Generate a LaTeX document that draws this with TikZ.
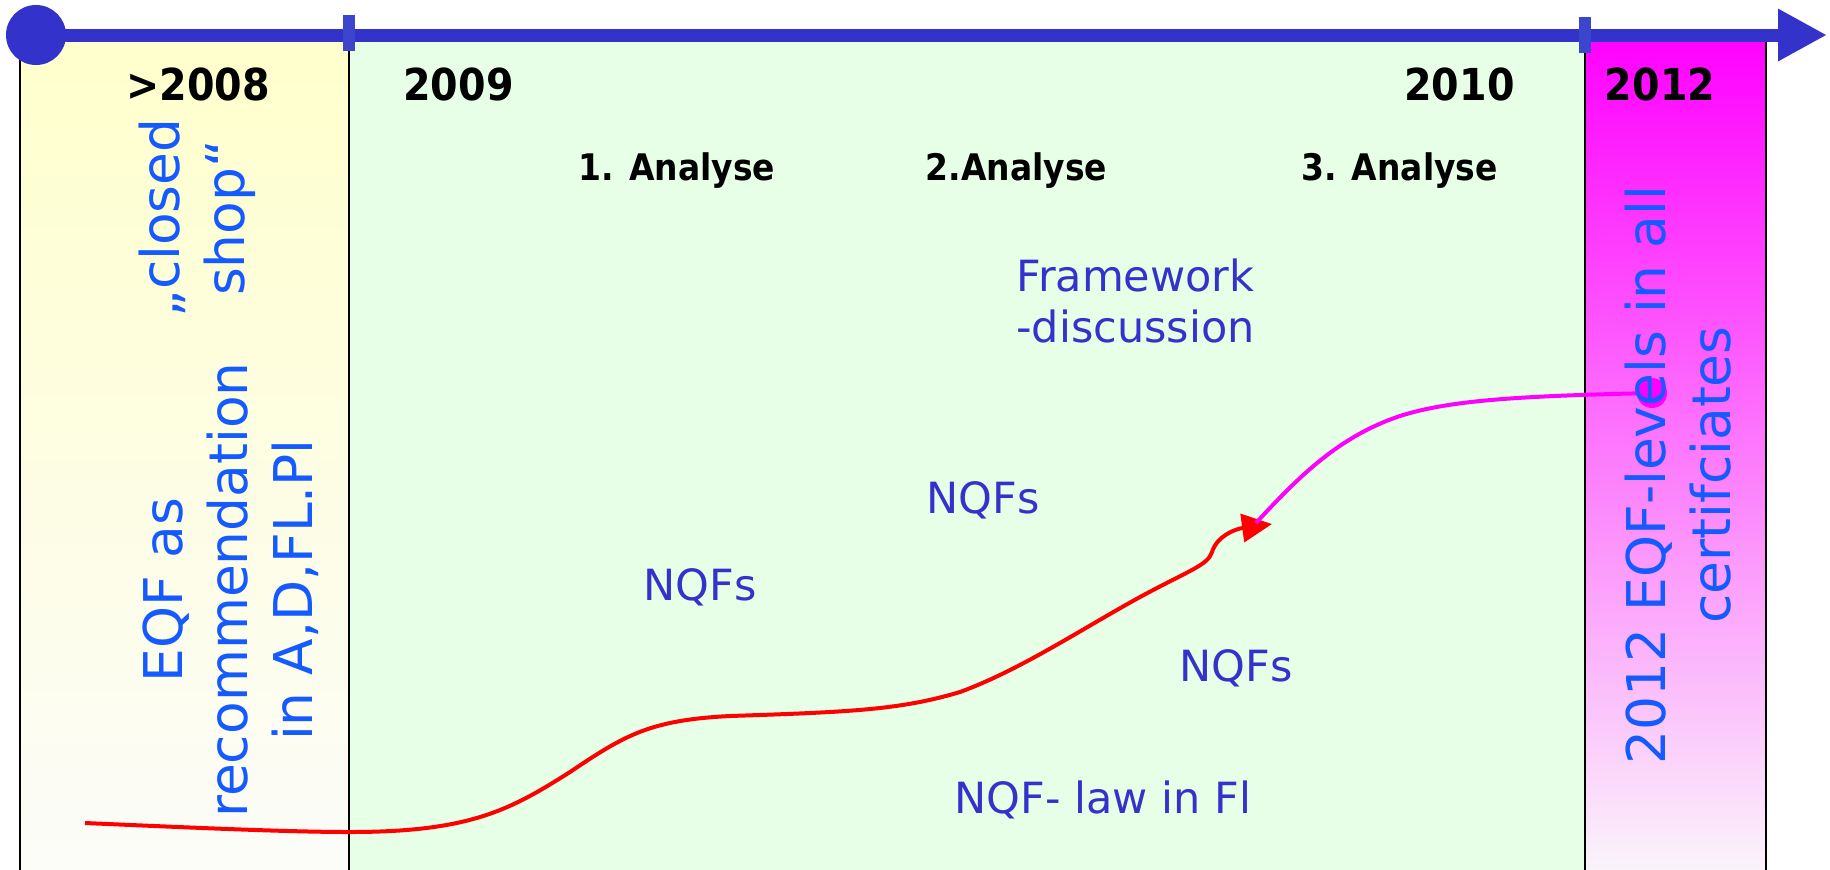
\documentclass[tikz,border=0pt]{standalone}
\usepackage{fontspec}
\setmainfont{DejaVu Sans}
\newfontfamily\cond{DejaVu Sans Condensed}
\usetikzlibrary{arrows.meta}
\definecolor{tlblue}{RGB}{51,51,204}
\definecolor{tickblue}{RGB}{60,70,205}
\definecolor{txtblue}{RGB}{20,90,255}
\definecolor{ytop}{RGB}{255,255,204}
\definecolor{ymid}{RGB}{255,255,226}
\definecolor{ybot}{RGB}{252,252,250}
\definecolor{gfill}{RGB}{230,255,230}
\definecolor{mtop}{RGB}{255,0,255}
\definecolor{mmid}{RGB}{255,175,255}
\definecolor{mbot}{RGB}{250,248,250}
\definecolor{magline}{RGB}{255,0,255}
\definecolor{redline}{RGB}{255,0,0}
\tikzset{
  period/.style={draw=black, line width=1pt},
  yearlabel/.style={font=\cond\bfseries\fontsize{22}{26}\selectfont, anchor=base, inner sep=0pt},
  analyselabel/.style={font=\cond\bfseries\fontsize{18.3}{22}\selectfont, anchor=base, inner sep=0pt},
  note/.style={font=\fontsize{21.5}{25.5}\selectfont, text=tlblue, anchor=base west, inner sep=0pt, align=left},
  verttext/.style={font=\fontsize{26.7}{32.5}\selectfont, text=txtblue, rotate=90, align=center, inner sep=0pt},
  timeline/.style={line width=6.5pt, draw=tlblue, -{Triangle[length=24.5pt,width=24.5pt]}},
  tickmark/.style={fill=tickblue},
  redcurve/.style={line width=2pt, draw=redline, -{Triangle[length=15pt,width=14pt]}},
  magcurve/.style={line width=2pt, draw=magline}
}
\begin{document}
\begin{tikzpicture}[x=0.5pt, y=-0.5pt]
\useasboundingbox (0,0) rectangle (1830,869);
\clip (0,0) rectangle (1830,869);
\fill[white] (0,0) rectangle (1830,869);
% period boxes
\path[period, top color=ytop, middle color=ymid, bottom color=ybot] (20,35) rectangle (349,885);
\path[period, fill=gfill] (349,35) rectangle (1585,885);
\path[period, top color=mtop, middle color=mmid, bottom color=mbot] (1585,35) rectangle (1766,885);
% timeline
\coordinate (tend) at (1827,35);
\node[circle, fill=tlblue, minimum size=30pt, inner sep=0pt] (tstart) at (36,35) {};
\draw[timeline] (tstart.center) -- (tend);
\fill[tickmark] (343,15) rectangle (355,51);
\fill[tickmark] (1579,17) rectangle (1591,53);
% year labels
\node[yearlabel] (y2008) at (198,100) {>2008};
\node[yearlabel] (y2009) at (458.5,100) {2009};
\node[yearlabel] (y2010) at (1459.5,100) {2010};
\node[yearlabel] (y2012) at (1660,100) {2012};
% analyses
\node[analyselabel] (an1) at (677,180) {1. Analyse};
\node[analyselabel] (an2) at (1016.5,180) {2.Analyse};
\node[analyselabel] (an3) at (1399.5,180) {3. Analyse};
% notes
\node[note, anchor=north west] (frame) at (1016,258) {Framework\\-discussion};
\node[note] (nqf1) at (643,600) {NQFs};
\node[note] (nqf2) at (926,513) {NQFs};
\node[note] (nqf3) at (1179,681) {NQFs};
\node[note] (nqflaw) at (954,813) {NQF- law in Fl};
% red curve
\coordinate (rA) at (85,823);
\coordinate (rB) at (1272,524);
\draw[redcurve] (rA) .. controls (200,828) and (290,832) .. (350,832)
  .. controls (470,832) and (510,810) .. (570,772)
  .. controls (625,735) and (650,720) .. (730,716)
  .. controls (850,712) and (900,710) .. (960,692)
  .. controls (1020,670) and (1080,630) .. (1140,597)
  .. controls (1190,570) and (1208,565) .. (1212,552)
  .. controls (1217,536) and (1235,529) .. (rB);
% magenta curve
\node[circle, fill=magline, minimum size=15pt, inner sep=0pt] (mdot) at (1652,393) {};
\coordinate (mend) at (1256,523);
\draw[magcurve] (mdot.center) .. controls (1520,396) and (1450,400) .. (1400,416)
  .. controls (1340,436) and (1300,475) .. (mend);
% vertical texts
\node[verttext] (closed) at (197,218) {„closed\\shop“};
\node[verttext] (eqfrec) at (231,590) {EQF as\\recommendation\\in A,D,FL.Pl};
\node[verttext] (eqf2012) at (1678,475) {2012 EQF-levels in all\\certifciates};
\end{tikzpicture}
\end{document}
